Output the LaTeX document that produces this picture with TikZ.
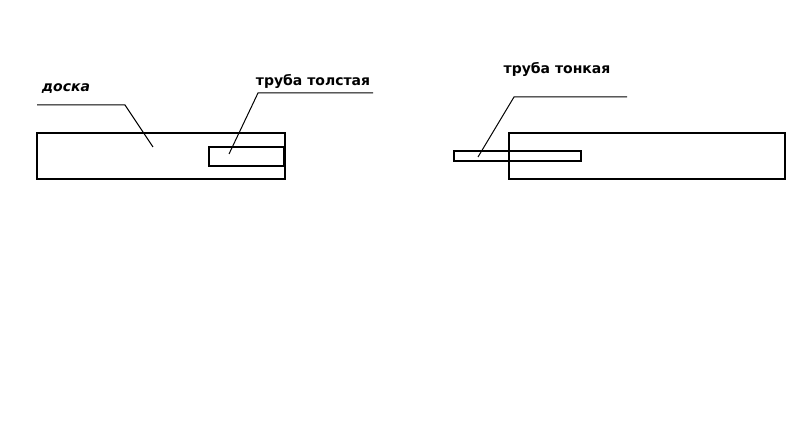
\documentclass[tikz,border=0pt]{standalone}
\usepackage{fontspec}
\setmainfont{DejaVu Sans}
\usetikzlibrary{positioning}
\tikzset{
    part/.style={shape=rectangle,draw=black,line width=2pt,inner sep=0pt},
    lbl/.style={font=\fontsize{14}{16}\selectfont\bfseries,inner sep=0pt},
    leader/.style={draw=black,line width=1pt}
}

\begin{document}
\begin{tikzpicture}[x=1pt,y=-1pt]
    \useasboundingbox (0,0) rectangle (800,438);

    \node[part,minimum width=248pt,minimum height=46pt] (Doska_L) at (161,156.5) {};
    \node[part,minimum width=75pt,minimum height=19pt] (Tolst) at (246,156.5) {};
    \node[part,minimum width=276pt,minimum height=46pt] (Doska_R) at (647,156) {};
    \node[part,minimum width=127pt,minimum height=10pt] (Tonk) at (517.5,156) {};

    \node[lbl,font=\fontsize{14}{16}\selectfont\bfseries\itshape] (L_doska) at (66,89) {доска};
    \node[lbl] (L_tolst) at (313,81) {труба толстая};
    \node[lbl] (L_tonk) at (557,69) {труба тонкая};

    \coordinate (d1) at (37,105);
    \coordinate (d2) at (125,105);
    \coordinate (d3) at (153,147);
    \coordinate (t1) at (373,93);
    \coordinate (t2) at (258,93);
    \coordinate (t3) at (229,154);
    \coordinate (k1) at (627,97);
    \coordinate (k2) at (514,97);
    \coordinate (k3) at (478,157);

    \path[leader] (d1) -- (d2) -- (d3);
    \path[leader] (t1) -- (t2) -- (t3);
    \path[leader] (k1) -- (k2) -- (k3);
\end{tikzpicture}
\end{document}
